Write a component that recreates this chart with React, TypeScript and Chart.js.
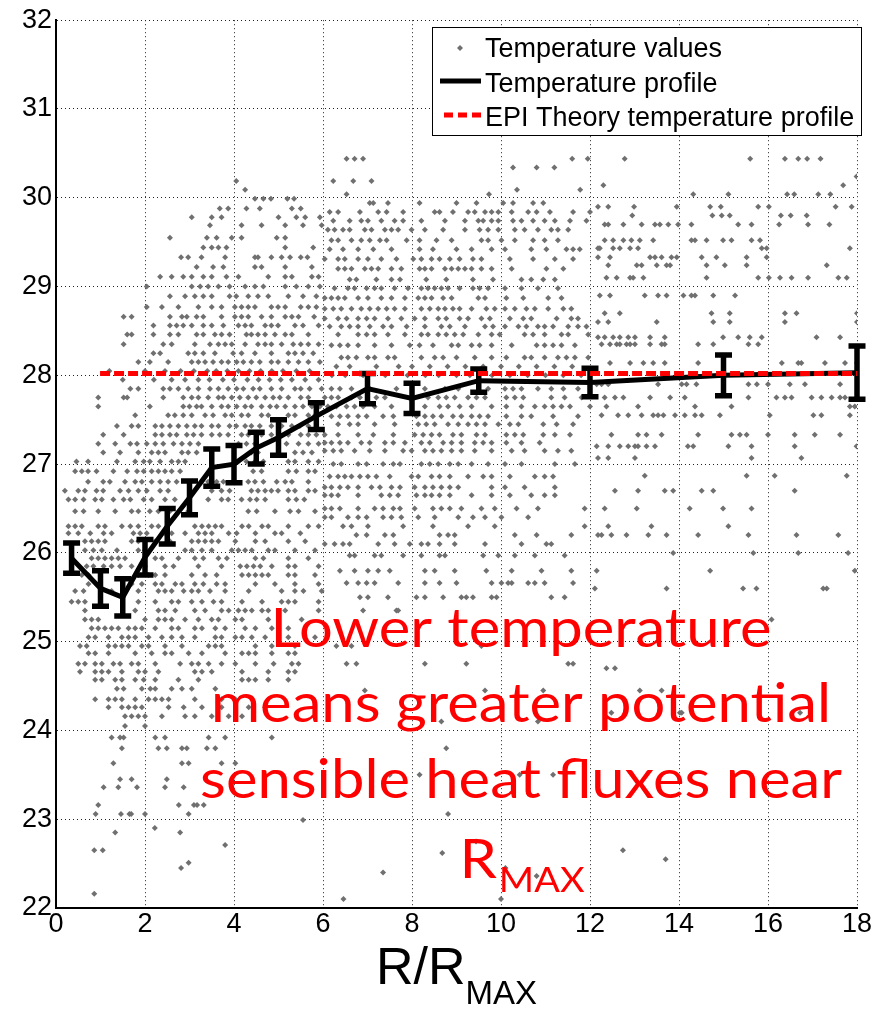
import React, { useEffect, useRef } from 'react';
import { Chart, registerables } from 'chart.js';

Chart.register(...registerables);

// ---------- data ----------
const xTickStep = 2;
const yTickStep = 1;
const xRange = [0, 18];
const yRange = [22, 32];

const profileX = [0.35, 1, 1.5, 2, 2.5, 3, 3.5, 4, 4.5, 5, 5.85, 7, 8, 9.5, 12, 15, 18];
const profileY = [25.94, 25.6, 25.5, 25.95, 26.3, 26.62, 26.96, 27.0, 27.18, 27.3, 27.54, 27.85, 27.74, 27.94, 27.92, 28.0, 28.03];
const profileErr = [0.17, 0.2, 0.21, 0.2, 0.2, 0.19, 0.21, 0.21, 0.18, 0.2, 0.15, 0.17, 0.17, 0.13, 0.16, 0.23, 0.3];

const epiX = [0.99, 18];
const epiY = [28.02, 28.02];

type Row = [number, number[]];

// temperature values, rows of [temperature, R/Rmax values]
const scatterLeft: Row[] = [
  [30.19, [4.05]],
  [30.09, [4.25]],
  [29.99, [4.47, 4.66, 4.83, 5.2, 5.35]],
  [29.88, [3.68, 3.87, 4.28, 4.58, 5.3, 5.5]],
  [29.78, [3.05, 3.5, 3.72, 5.0, 5.4, 5.6, 5.93]],
  [29.69, [3.46, 4.17, 4.62, 5.15, 5.55, 5.97]],
  [29.55, [2.56, 3.39, 3.61, 3.95, 4.17, 4.96, 5.15]],
  [29.44, [3.31, 3.5, 3.65, 3.83, 5.15, 5.78]],
  [29.33, [2.81, 2.97, 3.27, 3.8, 4.47, 4.54, 4.84, 5.07, 5.26, 5.5, 5.65]],
  [29.22, [3.16, 3.53, 3.76, 4.47, 4.62, 5.15, 5.75]],
  [29.11, [2.34, 2.6, 2.86, 3.05, 3.31, 3.5, 3.83, 4.1, 4.77, 5.15, 5.3, 5.75, 5.9]],
  [29.0, [2.04, 3.05, 3.24, 3.42, 3.65, 3.9, 4.25, 4.47, 4.66, 5.15, 5.4, 5.67, 5.93]],
  [28.89, [2.56, 2.9, 3.12, 3.31, 3.5, 3.9, 4.05, 4.32, 4.54, 4.77, 5.22, 5.55, 5.85]],
  [28.77, [2.04, 2.38, 2.75, 3.2, 3.5, 3.72, 4.02, 4.17, 4.32, 4.47, 4.84, 4.99, 5.15, 5.5, 5.67, 5.85]],
  [28.66, [1.52, 1.7, 2.56, 2.83, 2.94, 3.16, 3.31, 3.72, 4.02, 4.17, 4.32, 4.62, 4.84, 5.15, 5.3, 5.45, 5.8]],
  [28.56, [2.19, 2.56, 2.71, 2.86, 3.05, 3.31, 3.5, 3.76, 4.1, 4.25, 4.39, 4.7, 4.84, 4.99, 5.37, 5.55, 5.9]],
  [28.46, [1.6, 1.7, 2.19, 2.56, 2.75, 3.16, 3.31, 3.57, 3.72, 3.9, 4.28, 4.39, 4.54, 4.7, 4.92, 5.15, 5.3, 5.67]],
  [28.35, [1.52, 2.41, 2.6, 3.12, 3.46, 3.65, 3.8, 3.95, 4.25, 4.54, 4.7, 4.84, 5.07, 5.33, 5.5, 5.67, 5.9]],
  [28.25, [2.19, 2.34, 2.97, 3.12, 3.31, 3.57, 3.98, 4.17, 4.47, 4.84, 5.22, 5.37, 5.55, 5.78]],
  [28.15, [1.85, 2.11, 2.52, 3.05, 3.2, 3.35, 3.53, 3.72, 3.87, 4.06, 4.21, 4.39, 4.58, 4.84, 4.99, 5.22, 5.45, 5.67, 5.93]],
  [28.05, [1.2, 2.0, 2.45, 2.8, 3.1, 3.4, 3.6, 3.85, 4.1, 4.35, 4.6, 4.85, 5.1, 5.4, 5.7]],
  [27.95, [1.5, 2.2, 2.6, 2.9, 3.2, 3.45, 3.75, 4.0, 4.3, 4.55, 4.8, 5.05, 5.3, 5.6, 5.9]],
  [27.85, [1.67, 1.85, 2.41, 2.56, 2.75, 2.97, 3.2, 3.46, 3.65, 3.87, 4.06, 4.21, 4.43, 4.58, 4.84, 5.07, 5.37, 5.5, 5.7, 5.97]],
  [27.75, [0.95, 1.52, 1.6, 2.41, 2.86, 3.05, 3.2, 3.42, 3.65, 3.76, 3.95, 4.13, 4.32, 4.5, 4.7, 4.88, 5.03, 5.22, 5.5, 5.67]],
  [27.65, [0.95, 2.11, 2.86, 3.0, 3.16, 3.27, 3.5, 3.72, 3.87, 4.06, 4.25, 4.39, 4.62, 4.81, 4.96, 5.15, 5.37, 5.55, 5.75, 5.93]],
  [27.55, [1.78, 2.52, 2.67, 2.86, 3.05, 3.35, 3.53, 3.8, 3.95, 4.17, 4.32, 4.62, 4.77, 5.22, 5.37, 5.67, 5.82]],
  [27.43, [1.37, 1.7, 1.85, 2.23, 2.38, 2.56, 2.75, 2.94, 3.12, 3.27, 3.5, 3.65, 3.9, 4.05, 4.25, 4.39, 4.58, 4.84, 5.07, 5.3, 5.48, 5.67]],
  [27.33, [1.06, 1.52, 2.23, 2.38, 2.56, 2.71, 2.94, 3.09, 3.27, 3.5, 3.68, 3.87, 4.17, 4.32, 4.62, 4.84, 5.22, 5.5, 5.67, 5.85]],
  [27.23, [0.95, 1.33, 1.67, 1.82, 2.04, 2.23, 2.41, 2.64, 2.83, 3.01, 3.2, 4.1, 4.28, 4.47, 5.18, 5.45, 5.67, 5.9]],
  [27.13, [1.06, 1.44, 1.85, 2.15, 2.3, 2.45, 2.83, 2.97, 3.16, 4.39, 4.54, 5.37, 5.55, 5.75]],
  [27.03, [0.46, 0.72, 1.37, 1.78, 1.97, 2.11, 2.34, 2.6, 2.75, 2.9, 4.1, 4.28, 4.47, 4.66, 5.22, 5.37, 5.67, 5.9]],
  [26.92, [0.43, 0.58, 0.72, 0.91, 1.29, 1.6, 1.82, 1.97, 2.15, 2.3, 2.45, 2.6, 2.79, 4.43, 4.62, 5.22, 5.4, 5.67, 5.82]],
  [26.8, [0.72, 1.06, 1.21, 1.55, 1.78, 1.93, 2.15, 2.34, 2.52, 2.71, 3.42, 3.61, 3.76, 4.32, 4.47, 4.66, 4.96, 5.15, 5.3, 5.67]],
  [26.7, [0.2, 0.5, 0.65, 0.91, 1.06, 1.44, 1.63, 1.85, 2.04, 2.34, 2.52, 3.5, 3.72, 3.9, 4.39, 4.54, 4.7, 4.84, 4.99, 5.22, 5.37, 5.67, 5.82]],
  [26.6, [0.28, 0.43, 0.62, 0.88, 1.03, 1.29, 1.52, 1.67, 1.97, 2.15, 2.45, 2.67, 3.42, 3.72, 3.87, 4.17, 4.36, 4.51, 4.7, 5.22, 5.4, 5.58]],
  [26.47, [0.43, 0.62, 0.95, 1.33, 1.7, 1.85, 2.11, 2.3, 2.56, 2.97, 4.32, 4.51, 4.92, 5.26, 5.45, 5.82]],
  [26.3, [0.28, 0.43, 0.58, 0.95, 1.1, 1.48, 1.67, 1.85, 2.15, 2.3, 3.12, 3.28, 3.43, 3.58, 3.72, 4.18, 4.33, 4.63, 4.77, 5.22, 5.67, 5.9]],
  [26.22, [0.28, 0.5, 0.77, 1.07, 1.25, 1.74, 1.89, 2.04, 2.45, 2.6, 2.9, 3.2, 3.35, 3.5, 3.88, 4.06, 4.48, 4.92, 5.07, 5.49]],
  [26.13, [0.65, 0.8, 0.95, 1.1, 1.7, 1.85, 2.0, 2.23, 2.56, 3.05, 3.2, 3.35, 3.5, 3.65, 4.03, 4.48, 4.7, 5.22, 5.6]],
  [26.03, [0.65, 0.84, 1.03, 1.37, 1.85, 2.0, 2.9, 3.05, 3.28, 3.5, 3.95, 4.1, 4.25, 4.4, 4.77, 4.92, 5.37, 5.82]],
  [25.94, [0.8, 0.95, 1.1, 1.25, 1.4, 1.55, 2.23, 2.38, 2.75, 3.12, 3.31, 3.65, 3.84, 4.48, 4.66, 5.22, 5.67]],
  [25.85, [0.69, 0.84, 1.07, 1.25, 1.44, 1.7, 2.0, 2.45, 2.64, 3.2, 3.72, 4.14, 4.29, 4.44, 4.59, 4.85, 5.22, 5.37, 5.9]],
  [25.75, [0.58, 0.73, 1.85, 2.08, 2.23, 2.45, 3.05, 3.35, 3.61, 4.18, 4.33, 4.48, 4.63, 4.77, 5.22, 5.37, 5.82]],
  [25.65, [0.73, 1.7, 1.93, 2.23, 2.38, 2.68, 2.83, 3.12, 3.31, 3.61, 3.8, 4.48, 4.92, 5.37, 5.9]],
  [25.57, [0.43, 0.62, 1.25, 1.85, 2.3, 2.45, 2.6, 2.87, 3.05, 3.2, 3.46, 3.8, 4.33, 5.07, 5.37, 5.56, 5.97]],
  [25.45, [0.35, 0.5, 0.65, 1.85, 2.23, 2.6, 2.75, 3.05, 3.28, 3.54, 3.72, 4.18, 4.63, 5.07, 5.22, 5.37, 5.9]],
  [25.35, [0.65, 1.78, 2.3, 2.45, 2.68, 3.12, 3.35, 3.72, 3.88, 4.1, 4.25, 4.4, 4.63, 4.77, 5.15, 5.9]],
  [25.25, [0.65, 0.8, 0.95, 2.0, 2.3, 2.45, 2.6, 2.9, 3.2, 3.5, 3.65, 4.03, 4.18, 4.77, 5.52]],
  [25.15, [0.8, 0.95, 1.1, 1.25, 1.4, 1.63, 1.78, 1.93, 2.23, 2.6, 2.75, 3.12, 3.28, 3.58, 3.8, 4.25, 4.48, 4.85, 5.22]],
  [25.05, [0.73, 0.88, 1.18, 1.48, 1.63, 1.78, 2.08, 2.38, 2.6, 2.83, 3.12, 3.58, 3.72, 4.03, 4.18, 4.4, 4.7, 5.22, 5.82]],
  [24.95, [0.54, 0.69, 1.18, 1.33, 1.48, 1.63, 1.93, 2.08, 2.45, 2.83, 3.43, 3.58, 3.72, 4.48, 4.85, 5.37]],
  [24.87, [0.73, 0.88, 1.18, 1.78, 2.15, 2.45, 2.6, 2.98, 3.28, 3.8, 4.18, 4.33, 4.48, 4.85, 5.22, 5.37]],
  [24.75, [0.5, 0.65, 0.88, 1.03, 1.29, 1.44, 1.7, 1.85, 2.23, 2.79, 3.05, 3.2, 3.43, 3.72, 4.03, 4.48, 4.89, 5.3, 5.45]],
  [24.66, [0.54, 0.88, 1.03, 1.18, 1.48, 1.85, 2.0, 2.3, 3.12, 3.28, 3.5, 4.18, 4.77, 5.22, 5.37]],
  [24.57, [0.88, 1.03, 1.33, 1.48, 1.78, 1.97, 2.23, 2.75, 3.2, 4.18, 4.33, 4.48, 4.77, 5.22]],
  [24.47, [1.37, 1.52, 1.93, 2.12, 2.23, 2.6, 2.83, 3.05, 3.58]],
  [24.35, [0.88, 1.18, 1.33, 1.48, 1.78, 2.08, 2.23, 2.38, 2.53, 3.12, 3.72, 4.03]],
  [24.26, [1.18, 1.48, 1.63, 1.78, 1.93, 2.53, 2.87, 3.28, 3.72, 4.33, 4.7]],
  [24.16, [1.55, 1.7, 1.85, 2.0, 2.38, 2.9, 3.12, 3.5, 3.88, 4.18]],
  [24.05, [1.55, 2.0]],
  [23.92, [1.25, 1.44, 1.52, 2.23, 2.45, 3.43, 3.8, 4.85]],
  [23.8, [1.48, 2.3, 2.49, 2.83, 2.94, 3.39, 3.58]],
  [23.63, [1.29, 2.83, 2.98, 3.72, 4.03]],
  [23.45, [1.44, 1.7, 2.49]],
  [23.36, [1.07, 1.4, 1.82, 2.45, 2.87]],
];

const scatterMid: Row[] = [
  [30.44, [6.53, 6.71, 6.9, 11.6, 11.95]],
  [30.34, [10.27, 10.8, 11.2]],
  [30.19, [6.23, 6.68, 7.09]],
  [30.09, [10.36, 11.78]],
  [30.04, [6.53, 9.73]],
  [29.94, [7.05, 7.13, 7.46, 8.17, 9.0, 9.45, 10.05, 10.27, 10.72, 10.95]],
  [29.84, [6.15, 6.34, 6.83, 7.24, 7.43, 7.8, 8.51, 8.62, 8.92, 9.26, 9.41, 9.64, 9.79, 9.94, 10.24, 10.61, 10.8, 11.1, 11.62, 12.0]],
  [29.74, [6.23, 6.6, 6.86, 7.01, 7.31, 7.61, 7.8, 8.21, 8.74, 9.19, 9.49, 9.6, 9.79, 9.94, 10.27, 10.46, 10.72, 10.98, 11.21, 11.55, 11.92]],
  [29.64, [6.11, 6.26, 6.45, 6.6, 6.94, 7.09, 7.39, 7.54, 7.69, 7.99, 8.29, 8.7, 9.19, 9.52, 9.71, 9.94, 10.31, 10.53, 10.83, 11.13, 11.28, 11.51]],
  [29.52, [6.19, 6.34, 6.64, 6.86, 7.05, 7.28, 7.43, 7.88, 8.17, 8.55, 8.89, 9.56, 9.71, 10.01, 10.31, 10.72, 10.98, 11.28]],
  [29.42, [6.15, 6.45, 6.79, 7.13, 7.54, 8.17, 8.47, 9.0, 9.34, 9.79, 10.09, 10.68, 11.02, 11.47, 11.62, 11.77]],
  [29.31, [6.04, 6.34, 6.49, 6.79, 7.01, 7.31, 7.65, 8.03, 8.21, 8.44, 8.62, 8.85, 9.07, 9.37, 9.56, 10.2, 10.72, 11.21, 11.62]],
  [29.2, [6.34, 6.49, 6.64, 6.94, 7.09, 7.24, 7.54, 7.76, 8.17, 8.29, 8.44, 8.74, 8.89, 9.04, 9.19, 9.34, 9.56, 9.79, 10.24, 11.02, 11.4]],
  [29.08, [6.6, 6.75, 7.2, 7.54, 7.73, 8.32, 8.77, 9.37, 9.82, 10.46, 10.68, 10.95, 11.21]],
  [28.98, [6.26, 6.56, 6.71, 6.98, 7.16, 7.31, 7.61, 7.91, 8.21, 8.36, 8.51, 8.66, 8.81, 9.07, 9.37, 9.52, 9.71, 10.09, 10.46, 10.83, 11.28]],
  [28.87, [6.04, 6.19, 6.34, 6.49, 6.79, 7.01, 7.31, 7.54, 7.84, 8.14, 8.29, 8.44, 8.7, 8.89, 9.49, 9.64, 10.12, 10.5, 11.06, 11.36]],
  [28.75, [6.04, 6.23, 6.41, 6.64, 6.86, 7.05, 7.24, 7.43, 7.61, 7.84, 8.21, 8.4, 8.59, 8.74, 8.92, 9.07, 9.34, 9.67, 9.86, 10.09, 10.31, 10.57, 10.76, 11.06, 11.4, 11.58]],
  [28.64, [6.04, 6.34, 6.53, 6.79, 6.98, 7.16, 7.46, 7.76, 8.06, 8.29, 8.59, 8.77, 9.07, 9.26, 9.56, 9.75, 10.2, 10.5, 10.68, 11.25, 11.58, 11.73]],
  [28.55, [6.15, 6.41, 6.6, 6.79, 7.05, 7.35, 7.54, 7.88, 8.29, 8.66, 8.85, 9.19, 9.64, 9.82, 10.09, 10.39, 10.57, 10.83, 10.98, 11.17, 11.51, 11.73, 11.92]],
  [28.46, [6.34, 6.79, 6.98, 7.16, 7.46, 7.84, 8.21, 8.36, 8.59, 8.77, 8.96, 9.15, 9.49, 9.79, 9.97, 10.53, 10.72, 10.98, 11.36, 11.51, 11.96]],
  [28.34, [6.19, 6.38, 6.56, 6.79, 7.16, 7.54, 7.95, 8.17, 8.47, 8.89, 9.04, 9.34, 9.52, 9.79, 10.24, 10.8, 10.98, 11.17, 11.36, 11.66]],
  [28.2, [6.41, 6.56, 6.75, 7.01, 7.16, 7.46, 7.61, 8.21, 8.51, 8.7, 9.0, 9.41, 9.79, 10.12, 10.53, 10.68, 10.98, 11.28, 11.47, 11.66, 11.96]],
  [28.1, [6.3, 6.6, 7.2, 7.7, 8.0, 8.4, 8.8, 9.2, 9.6, 10.0, 10.4, 10.8, 11.2, 11.6]],
  [28.0, [6.2, 6.5, 6.9, 7.4, 7.9, 8.3, 8.6, 9.0, 9.3, 9.8, 10.2, 10.6, 11.0, 11.4, 11.8]],
  [27.85, [6.19, 6.38, 6.64, 7.05, 7.65, 8.29, 8.74, 9.04, 9.71, 10.09, 10.27, 10.46, 10.83, 11.13, 11.4, 11.73]],
  [27.75, [6.04, 6.19, 6.34, 6.64, 6.83, 7.2, 7.39, 8.36, 8.59, 8.77, 8.96, 9.26, 9.45, 9.64, 10.12, 10.31, 10.5, 11.13, 11.43, 11.81]],
  [27.65, [6.11, 6.3, 6.53, 6.71, 6.9, 7.16, 7.54, 8.29, 8.62, 8.81, 9.07, 9.34, 9.79, 10.12, 10.46, 10.76, 10.98, 11.17, 11.36, 11.55, 12.0]],
  [27.54, [6.19, 6.38, 6.56, 6.79, 6.98, 7.35, 7.58, 8.1, 8.29, 8.47, 8.66, 8.92, 9.11, 9.34, 9.52, 9.71, 10.12, 10.46, 10.68, 11.17, 11.73]],
  [27.45, [6.34, 6.6, 6.79, 7.16, 7.61, 8.14, 8.32, 8.51, 8.81, 9.04, 9.26, 9.45, 9.64, 9.94, 10.2, 10.39, 10.95, 11.25, 11.62]],
  [27.33, [6.04, 6.34, 6.79, 7.13, 7.58, 8.06, 8.25, 8.44, 8.62, 8.92, 9.11, 9.45, 9.64, 10.12, 10.31, 10.5, 10.95, 11.21, 11.55]],
  [27.24, [6.04, 6.19, 6.38, 6.56, 6.86, 7.05, 7.39, 7.58, 7.84, 8.21, 8.4, 8.7, 8.89, 9.11, 9.41, 9.6, 9.79, 10.12, 10.46, 10.87]],
  [27.15, [6.04, 6.23, 6.41, 6.71, 7.05, 7.39, 7.8, 7.99, 8.29, 8.47, 8.66, 8.89, 9.11, 9.41, 9.79, 10.24, 10.53, 10.98, 11.28, 11.58]],
  [27.0, [6.23, 6.41, 6.79, 6.98, 7.35, 7.58, 7.73, 8.21, 8.4, 8.59, 8.85, 9.04, 9.34, 9.71, 10.09, 10.46, 11.21, 11.66]],
  [26.86, [6.15, 6.34, 6.49, 6.64, 6.83, 7.01, 7.2, 7.5, 7.99, 8.14, 8.44, 8.62, 8.85, 9.26, 9.6, 9.79, 10.2, 10.76, 10.98, 11.17]],
  [26.74, [6.04, 6.19, 6.38, 6.56, 6.79, 7.09, 7.28, 7.54, 7.73, 8.06, 8.29, 8.47, 8.66, 8.85, 9.04, 9.79, 10.09, 10.53, 11.21]],
  [26.65, [6.04, 6.19, 6.34, 6.79, 7.31, 7.5, 7.69, 8.1, 8.29, 8.44, 8.62, 8.85, 9.34, 9.79, 10.2, 10.68, 10.98, 11.21]],
  [26.5, [6.04, 6.19, 6.38, 6.79, 7.16, 7.35, 7.58, 7.73, 8.06, 8.47, 8.66, 8.85, 9.11, 9.56, 9.86, 10.35, 10.83, 11.88]],
  [26.4, [6.04, 6.19, 6.56, 6.79, 6.98, 7.35, 7.54, 7.76, 8.14, 8.51, 9.04, 9.37, 9.64, 10.01, 10.61]],
  [26.3, [6.45, 6.64, 7.01, 7.8, 8.47, 9.26, 9.86, 11.88]],
  [26.2, [6.75, 6.98, 7.39, 7.58, 8.62, 8.81, 8.96, 10.31, 10.8, 11.58]],
  [26.1, [6.04, 6.26, 6.45, 6.6, 7.24, 7.61, 7.95, 8.21, 8.36, 8.62, 8.96, 9.64, 10.46, 11.02, 11.13]],
  [25.97, [6.6, 6.71, 7.16, 7.31, 7.8, 8.21, 8.62, 8.74, 9.6, 9.94, 10.31, 10.76, 11.43]],
  [25.8, [6.38, 6.71, 7.01, 7.24, 7.5, 8.29, 8.51, 8.96, 9.67, 10.24, 10.91, 11.58]],
  [25.66, [6.53, 6.79, 6.98, 7.16, 7.69, 8.29, 8.62, 9.0, 9.79, 10.01, 10.16, 10.24, 10.61, 10.76, 10.98, 11.62]],
  [25.5, [6.83, 7.01, 7.46, 8.1, 8.29, 8.7, 9.11, 9.22, 9.37, 9.79, 9.9, 11.13, 11.43]],
  [25.35, [6.9, 7.65, 7.69]],
  [24.95, [6.3, 6.64, 9.56]],
  [24.75, [6.53, 6.75, 8.29, 9.22, 11.51, 11.62]],
  [24.45, [6.94, 9.64, 10.95]],
  [24.1, [8.66, 10.83]],
  [23.8, [8.77]],
  [23.5, [7.5, 8.17, 10.42, 11.17]],
];

const scatterRight: Row[] = [
  [30.44, [12.78, 15.6, 16.38, 16.68, 16.88, 17.18]],
  [30.24, [17.99]],
  [30.14, [12.3, 17.69]],
  [30.04, [14.32, 15.11, 16.43, 16.59, 17.13, 17.4]],
  [29.9, [12.18, 12.41, 12.99, 13.95, 14.7, 14.94, 15.78, 16.02, 17.52, 17.88]],
  [29.8, [12.95, 14.75, 14.96, 15.14, 16.29, 16.51, 16.87]],
  [29.7, [12.33, 12.41, 12.75, 13.16, 13.46, 13.57, 13.76, 13.98, 14.28, 15.33, 15.63, 16.25, 16.9, 17.38]],
  [29.52, [12.33, 12.52, 12.75, 12.93, 13.12, 13.42, 14.28, 14.36, 14.62, 14.99, 15.18, 15.63, 15.82]],
  [29.43, [12.18, 12.22, 12.52, 12.67, 12.9, 13.08, 15.86, 15.97, 17.84]],
  [29.33, [12.18, 12.45, 13.35, 13.46, 13.61, 13.83, 13.95, 14.51, 14.84, 15.52, 15.97]],
  [29.24, [12.41, 13.05, 13.16, 13.5, 13.72, 13.8, 14.62, 15.03, 15.52, 17.32]],
  [29.1, [12.37, 12.6, 12.9, 12.97, 13.2, 14.62, 15.78, 16.02, 16.27, 16.53, 16.9, 17.58, 17.77]],
  [28.9, [12.22, 12.45, 13.23, 13.53, 13.72, 14.1, 14.28, 14.36, 14.77, 15.26]],
  [28.7, [12.33, 12.67, 14.73, 15.14, 16.38, 16.64, 18.0]],
  [28.6, [12.18, 12.41, 13.5, 14.77, 15.14, 16.38, 18.0]],
  [28.43, [12.18, 12.33, 12.52, 12.67, 12.86, 13.01, 13.35, 13.68, 14.99, 15.33, 15.59, 15.86, 17.09, 17.62]],
  [28.35, [12.26, 12.45, 12.6, 12.67, 12.82, 12.9, 13.01, 13.35, 13.61, 13.68, 14.43, 14.77, 15.56, 15.78]],
  [28.14, [12.45, 12.9, 13.2, 13.42, 13.68, 14.43, 16.31, 16.68, 16.75, 17.28, 17.73, 18.0]],
  [27.9, [12.15, 12.26, 12.41, 13.53, 14.06, 14.17, 14.39, 15.56, 15.75, 16.0, 16.49, 16.83, 17.62]],
  [27.75, [12.33, 12.56, 12.75, 13.35, 13.8, 14.13, 15.56, 16.19, 16.38, 16.53, 16.98, 17.2, 17.43, 17.62, 17.73]],
  [27.65, [12.37, 13.08, 14.36, 15.18, 17.84, 17.95]],
  [27.55, [12.26, 12.63, 12.86, 13.16, 13.42, 13.53, 13.65, 13.91, 14.13, 14.36, 14.51, 14.92, 16.04, 17.02, 17.2, 17.84]],
  [27.33, [12.48, 13.08, 13.27, 13.61, 14.43, 15.18, 15.37, 15.52, 16.0, 16.6, 17.05, 17.62]],
  [27.2, [12.15, 12.41, 12.67, 12.86, 13.01, 13.08, 13.27, 13.46, 14.2, 14.32, 15.11, 15.63, 16.6, 17.99]],
  [27.07, [12.18, 12.41, 13.01, 15.63, 16.75]],
  [26.87, [13.23, 15.52, 16.15, 17.77]],
  [26.7, [12.56, 13.08, 13.68, 13.87, 14.51, 14.77, 16.6]],
  [26.5, [12.33, 13.05, 14.24, 14.99, 15.63]],
  [26.3, [12.41, 13.38, 15.11]],
  [26.2, [12.18, 12.26, 12.48, 12.82, 13.31, 13.72, 14.43, 15.56, 16.64, 17.58]],
  [26.0, [13.87, 15.67, 16.68, 17.8]],
  [25.8, [12.15, 14.7, 17.95]],
  [25.6, [12.11, 13.72, 15.44, 15.74, 17.24, 17.32]],
  [25.25, [16.08]],
  [24.7, [12.37, 12.56]],
  [24.45, [13.12, 13.61]],
  [24.2, [12.48, 14.02, 14.06, 16.72]],
];

const scatterBottom: Row[] = [
  [23.16, [0.95, 2.76, 3.1, 3.17, 3.32]],
  [23.06, [0.89, 1.46, 1.65, 1.69, 2.0, 2.98, 8.81]],
  [22.99, [5.55]],
  [22.9, [2.22]],
  [22.85, [1.33, 2.79]],
  [22.75, [9.44]],
  [22.71, [3.8]],
  [22.65, [0.86, 1.05, 12.74]],
  [22.62, [8.68]],
  [22.55, [13.7]],
  [22.51, [2.98]],
  [22.45, [2.81, 10.1]],
  [22.4, [7.35]],
  [22.36, [10.8]],
  [22.16, [0.86]],
  [22.1, [6.46, 10.0]],
];

const legendLabels = ['Temperature values', 'Temperature profile', 'EPI Theory temperature profile'];
const noteLines = ['Lower temperature', 'means greater potential', 'sensible heat fluxes near'];
const noteLast = ['R', 'MAX'];
const axisTitle = ['R/R', 'MAX'];

// ---------- helpers ----------
const FONT = "'Liberation Sans', Arial, sans-serif";
const toPoints = (rows: Row[]) => rows.flatMap(([y, xs]) => xs.map((x) => ({ x, y })));

const errorBarPlugin = {
  id: 'errorBars',
  afterDatasetDraw(chart: any, args: any) {
    if (args.index !== 1) return;
    const { ctx } = chart;
    const xs = chart.scales.x;
    const ys = chart.scales.y;
    ctx.save();
    ctx.strokeStyle = '#000';
    ctx.lineWidth = 5.5;
    ctx.lineCap = 'butt';
    profileX.forEach((xv, i) => {
      const px = xs.getPixelForValue(xv);
      const top = ys.getPixelForValue(profileY[i] + profileErr[i]);
      const bot = ys.getPixelForValue(profileY[i] - profileErr[i]);
      ctx.beginPath();
      ctx.moveTo(px, top);
      ctx.lineTo(px, bot);
      ctx.moveTo(px - 8.5, top);
      ctx.lineTo(px + 8.5, top);
      ctx.moveTo(px - 8.5, bot);
      ctx.lineTo(px + 8.5, bot);
      ctx.stroke();
    });
    ctx.restore();
  },
};

const overlayPlugin = {
  id: 'overlay',
  afterDraw(chart: any) {
    const { ctx } = chart;
    const xs = chart.scales.x;
    ctx.save();

    // red note
    ctx.fillStyle = '#ff0000';
    const size = 55;
    ctx.font = `${size}px Lato, 'Open Sans', sans-serif`;
    const w2 = ctx.measureText(noteLines[1]).width;
    const sx = 620 / w2;
    const cx = 521;
    const baselines = [647, 722, 798];
    ctx.textBaseline = 'alphabetic';
    noteLines.forEach((line, i) => {
      ctx.save();
      ctx.translate(cx, baselines[i]);
      ctx.scale(sx, 1);
      ctx.textAlign = 'center';
      ctx.fillText(line, 0, 0);
      ctx.restore();
    });
    ctx.font = `${size}px Lato, 'Open Sans', sans-serif`;
    const wR = ctx.measureText(noteLast[0]).width * sx;
    ctx.font = `35px Lato, 'Open Sans', sans-serif`;
    const wM = ctx.measureText(noteLast[1]).width * sx;
    const start = cx - (wR + wM) / 2;
    ctx.textAlign = 'left';
    ctx.save();
    ctx.translate(start, 878);
    ctx.scale(sx, 1);
    ctx.font = `${size}px Lato, 'Open Sans', sans-serif`;
    ctx.fillText(noteLast[0], 0, 0);
    ctx.restore();
    ctx.save();
    ctx.translate(start + wR + 2, 892);
    ctx.scale(sx, 1);
    ctx.font = `35px Lato, 'Open Sans', sans-serif`;
    ctx.fillText(noteLast[1], 0, 0);
    ctx.restore();

    // legend
    ctx.fillStyle = '#fff';
    ctx.fillRect(432, 27, 429, 108);
    ctx.strokeStyle = '#000';
    ctx.lineWidth = 1;
    ctx.setLineDash([]);
    ctx.strokeRect(432.5, 27.5, 429, 108);
    ctx.fillStyle = '#000';
    ctx.font = `27px ${FONT}`;
    ctx.textAlign = 'left';
    ctx.textBaseline = 'alphabetic';
    const base = [57, 92, 126];
    legendLabels.forEach((t, i) => ctx.fillText(t, 485, base[i]));
    // marker
    ctx.fillStyle = '#707070';
    ctx.beginPath();
    ctx.moveTo(460, 45);
    ctx.lineTo(463, 48);
    ctx.lineTo(460, 51);
    ctx.lineTo(457, 48);
    ctx.closePath();
    ctx.fill();
    // black line
    ctx.strokeStyle = '#000';
    ctx.lineWidth = 5;
    ctx.beginPath();
    ctx.moveTo(440, 81);
    ctx.lineTo(481, 81);
    ctx.stroke();
    // red dashed
    ctx.strokeStyle = '#ff0000';
    ctx.setLineDash([9, 5]);
    ctx.beginPath();
    ctx.moveTo(444, 115);
    ctx.lineTo(481, 115);
    ctx.stroke();
    ctx.setLineDash([]);

    // x axis title
    ctx.fillStyle = '#000';
    ctx.font = `52px ${FONT}`;
    const wA = ctx.measureText(axisTitle[0]).width;
    ctx.font = `33px ${FONT}`;
    const wB = ctx.measureText(axisTitle[1]).width;
    const tcx = (xs.left + xs.right) / 2;
    const tstart = tcx - (wA + wB) / 2;
    ctx.font = `52px ${FONT}`;
    ctx.fillText(axisTitle[0], tstart, 984);
    ctx.font = `33px ${FONT}`;
    ctx.fillText(axisTitle[1], tstart + wA, 1004);

    ctx.restore();
  },
};

export default function App() {
  const ref = useRef<HTMLCanvasElement | null>(null);

  useEffect(() => {
    if (!ref.current) return;
    const scatterPts = [
      ...toPoints(scatterLeft),
      ...toPoints(scatterMid),
      ...toPoints(scatterRight),
      ...toPoints(scatterBottom),
    ];
    const chart = new Chart(ref.current, {
      type: 'scatter',
      data: {
        datasets: [
          {
            label: legendLabels[2],
            data: epiX.map((x, i) => ({ x, y: epiY[i] })),
            showLine: true,
            borderColor: '#ff0000',
            borderWidth: 5,
            borderDash: [10, 4],
            pointRadius: 0,
            order: 0,
          } as any,
          {
            label: legendLabels[1],
            data: profileX.map((x, i) => ({ x, y: profileY[i] })),
            showLine: true,
            borderColor: '#000',
            borderWidth: 5,
            pointRadius: 0,
            tension: 0,
            order: 1,
          } as any,
          {
            label: legendLabels[0],
            data: scatterPts,
            pointStyle: 'rectRot',
            pointRadius: 3,
            backgroundColor: '#707070',
            borderWidth: 0,
            order: 2,
          } as any,
        ],
      },
      options: {
        responsive: false,
        animation: false,
        events: [],
        layout: { padding: { top: 18, right: 28, left: 0, bottom: 0 } },
        plugins: {
          legend: { display: false },
          tooltip: { enabled: false },
        },
        scales: {
          x: {
            type: 'linear',
            min: xRange[0],
            max: xRange[1],
            afterFit: (s: any) => {
              s.height = 102;
            },
            ticks: {
              stepSize: xTickStep,
              font: { size: 27, family: FONT },
              color: '#000',
              padding: 0,
              maxRotation: 0,
              autoSkip: false,
            },
            grid: { color: '#222', lineWidth: 1, drawTicks: false },
            border: { display: true, color: '#000', width: 2, dash: [1, 3] },
          },
          y: {
            type: 'linear',
            min: yRange[0],
            max: yRange[1],
            afterFit: (s: any) => {
              s.width = 56;
            },
            ticks: {
              stepSize: yTickStep,
              font: { size: 27, family: FONT },
              color: '#000',
              padding: 4,
              autoSkip: false,
            },
            grid: { color: '#222', lineWidth: 1, drawTicks: false },
            border: { display: true, color: '#000', width: 2, dash: [1, 3] },
          },
        },
      } as any,
      plugins: [errorBarPlugin, overlayPlugin],
    });
    return () => chart.destroy();
  }, []);

  return (
    <div style={{ position: 'absolute', left: 0, top: 0, width: 885, height: 1010, background: '#fff' }}>
      <canvas ref={ref} width={885} height={1010} style={{ width: 885, height: 1010, display: 'block' }} />
    </div>
  );
}
